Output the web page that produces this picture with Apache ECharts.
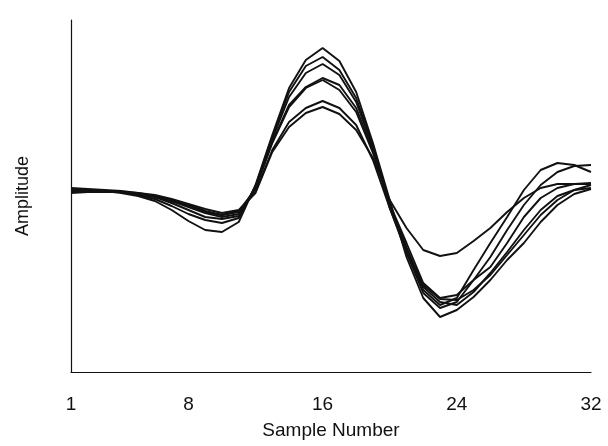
<!DOCTYPE html>
<html>
<head>
<meta charset="utf-8">
<script src="https://cdn.jsdelivr.net/npm/echarts@6/dist/echarts.min.js"></script>
<style>
html,body{margin:0;padding:0;background:#fff;}
#chart{width:608px;height:446px;}
</style>
</head>
<body>
<div id="chart"></div>
<script>
// Sample numbers 1..32
const samples = [1,2,3,4,5,6,7,8,9,10,11,12,13,14,15,16,17,18,19,20,21,22,23,24,25,26,27,28,29,30,31,32];
const xTickLabels = [1, 8, 16, 24, 32];

// Amplitude traces (arbitrary units)
const traceA = [2,2,1,-1,-4,-9,-18,-29,-38,-40,-30,7,57,104,132,144,131,100,49,-8,-65,-106,-125,-118,-105,-88,-68,-51,-30,-13,-2,3];
const traceB = [3,2,1,0,-3,-7,-14,-22,-28,-31,-26,6,55,100,126,135,122,94,47,-16,-61,-101,-116,-110,-88,-65,-38,-13,7,20,26,27];
const traceC = [1,1,1,0,-2,-5,-11,-18,-25,-27,-24,5,53,95,119,128,117,90,44,-14,-58,-98,-113,-106,-78,-51,-25,2,22,29,27,20];
const traceD = [4,3,2,1,-1,-4,-9,-15,-21,-25,-22,4,50,87,105,114,107,84,42,-13,-55,-95,-110,-113,-100,-81,-60,-38,-18,-4,2,4];
const traceE = [0,0,0,0,-2,-5,-9,-14,-20,-23,-19,3,49,85,104,112,102,80,39,-12,-51,-91,-106,-103,-88,-75,-51,-25,-6,4,8,9];
const traceF = [-1,0,0,0,-2,-4,-8,-13,-19,-23,-20,0,42,70,84,91,84,67,32,-16,-58,-93,-107,-108,-98,-83,-63,-43,-23,-8,2,7];
const traceG = [1,1,1,0,-1,-3,-7,-12,-17,-21,-18,-1,40,65,79,85,78,62,34,-8,-36,-58,-64,-61,-49,-36,-20,-6,4,8,8,8];

const traces = [traceA, traceB, traceC, traceD, traceE, traceF, traceG];

const chart = echarts.init(document.getElementById('chart'), null, {renderer: 'canvas'});
const font = 'Liberation Sans';

chart.setOption({
  animation: false,
  backgroundColor: '#ffffff',
  grid: {left: 71, right: 17, top: 20, bottom: 74, containLabel: false},
  xAxis: {
    type: 'value',
    min: 1,
    max: 32,
    name: 'Sample Number',
    nameLocation: 'middle',
    nameGap: 49,
    nameTextStyle: {fontFamily: font, fontSize: 19, color: '#111'},
    axisLine: {show: true, onZero: false, lineStyle: {color: '#111', width: 1.2}},
    axisTick: {show: false},
    splitLine: {show: false},
    axisLabel: {
      customValues: xTickLabels,
      margin: 23,
      fontFamily: font,
      fontSize: 19,
      color: '#111'
    }
  },
  yAxis: {
    type: 'value',
    min: -180,
    max: 172,
    name: 'Amplitude',
    nameLocation: 'middle',
    nameGap: 39,
    nameTextStyle: {fontFamily: font, fontSize: 18, color: '#111'},
    axisLine: {show: true, onZero: false, lineStyle: {color: '#111', width: 1.2}},
    axisTick: {show: false},
    axisLabel: {show: false},
    splitLine: {show: false}
  },
  series: traces.map(t => ({
    type: 'line',
    data: samples.map((s, i) => [s, t[i]]),
    showSymbol: false,
    symbol: 'none',
    lineStyle: {color: '#111', width: 1.9},
    silent: true
  }))
});
</script>
</body>
</html>
